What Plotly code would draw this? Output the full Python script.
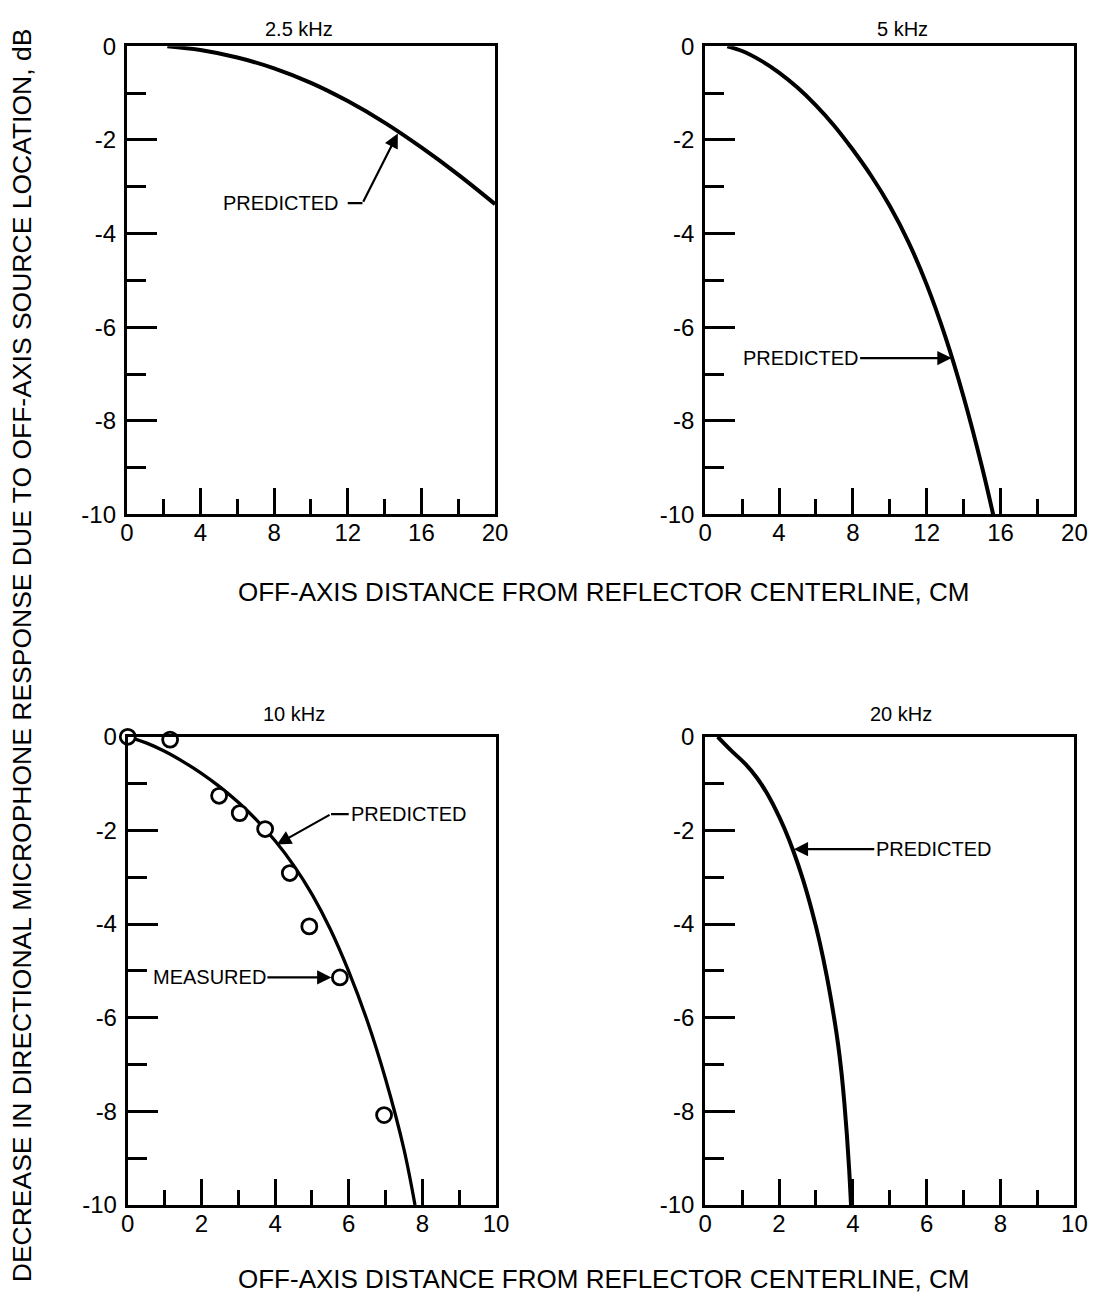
import plotly.graph_objects as go

# ---------------- data ----------------
x_25k = [2.2, 4, 6, 8, 10, 12, 14, 16, 18, 20]
y_25k = [0, -0.08, -0.24, -0.47, -0.78, -1.17, -1.63, -2.16, -2.74, -3.37]

x_5k = [1.2, 2, 3, 4, 5, 6, 7, 8, 9, 10, 11, 12, 13, 14, 15, 15.6]
y_5k = [0, -0.1, -0.3, -0.56, -0.88, -1.26, -1.7, -2.21, -2.77, -3.41, -4.17, -5.09, -6.19, -7.49, -8.99, -10]

x_10k = [0, 0.5, 1, 1.5, 2, 2.5, 3, 3.5, 4, 4.5, 5, 5.5, 6, 6.5, 7, 7.5, 7.8]
y_10k = [0, -0.13, -0.31, -0.53, -0.78, -1.07, -1.4, -1.78, -2.22, -2.74, -3.36, -4.11, -5.01, -6.06, -7.31, -8.81, -10]

x_10k_meas = [0, 1.15, 2.48, 3.04, 3.73, 4.4, 4.93, 5.76, 6.96]
y_10k_meas = [0, -0.06, -1.26, -1.63, -1.97, -2.91, -4.05, -5.14, -8.08]

x_20k = [0.34, 0.7, 1.1, 1.4, 1.65, 1.9, 2.15, 2.4, 2.65, 2.9, 3.1, 3.3, 3.5, 3.6, 3.69, 3.77, 3.84, 3.9, 3.95]
y_20k = [0, -0.29, -0.59, -0.875, -1.175, -1.54, -1.965, -2.465, -3.05, -3.74, -4.38, -5.14, -6.04, -6.57,
         -7.16, -7.82, -8.52, -9.24, -10]

panel_titles = ["2.5 kHz", "5 kHz", "10 kHz", "20 kHz"]

y_tick_vals = [0, -2, -4, -6, -8, -10]
y_tick_text = ["0", "-2", "-4", "-6", "-8", "-10"]
y_minor_vals = [-1, -3, -5, -7, -9]

x_top_tick_vals = [0, 4, 8, 12, 16, 20]
x_top_tick_text = ["0", "4", "8", "12", "16", "20"]
x_top_minor_vals = [2, 6, 10, 14, 18]

x_bot_tick_vals = [0, 2, 4, 6, 8, 10]
x_bot_tick_text = ["0", "2", "4", "6", "8", "10"]
x_bot_minor_vals = [1, 3, 5, 7, 9]

x_title = "OFF-AXIS DISTANCE FROM REFLECTOR CENTERLINE, CM"
y_title = "DECREASE IN DIRECTIONAL MICROPHONE RESPONSE DUE TO OFF-AXIS SOURCE LOCATION, dB"

# ---------------- layout helpers ----------------
W, H = 1108, 1311
FONT = "Liberation Sans, Arial, Helvetica, sans-serif"


def px(p):
    return p / W


def py(p):
    return 1 - p / H


fig = go.Figure()

curve = dict(color="black", width=4, shape="spline", smoothing=1)

fig.add_trace(go.Scatter(x=x_25k, y=y_25k, mode="lines", line=curve,
                         xaxis="x", yaxis="y", showlegend=False))
fig.add_trace(go.Scatter(x=x_5k, y=y_5k, mode="lines", line=curve,
                         xaxis="x2", yaxis="y2", showlegend=False))
fig.add_trace(go.Scatter(x=x_10k, y=y_10k, mode="lines", line=dict(curve, width=3.3),
                         xaxis="x3", yaxis="y3", showlegend=False))
fig.add_trace(go.Scatter(x=x_10k_meas, y=y_10k_meas, mode="markers",
                         marker=dict(symbol="circle", size=15, color="white", line=dict(color="black", width=2.8)),
                         xaxis="x3", yaxis="y3", showlegend=False, cliponaxis=False))
fig.add_trace(go.Scatter(x=x_20k, y=y_20k, mode="lines", line=curve,
                         xaxis="x4", yaxis="y4", showlegend=False))


def xaxis(domain, vals, text, minor_vals, rng, anchor):
    return dict(domain=domain, range=rng, anchor=anchor,
                showline=True, linecolor="black", linewidth=3, mirror=True,
                showgrid=False, zeroline=False,
                tickmode="array", tickvals=vals, ticktext=text,
                ticks="inside", ticklen=26, tickwidth=2.5, tickcolor="black",
                minor=dict(tickmode="array", tickvals=minor_vals, ticks="inside", ticklen=15,
                           tickwidth=2.5, tickcolor="black", showgrid=False),
                tickfont=dict(family=FONT, size=24, color="black"),
                ticklabelstandoff=-5)


def yaxis(domain, anchor):
    return dict(domain=domain, range=[-10, 0], anchor=anchor,
                showline=True, linecolor="black", linewidth=3, mirror=True,
                showgrid=False, zeroline=False,
                tickmode="array", tickvals=y_tick_vals, ticktext=y_tick_text,
                ticks="inside", ticklen=30, tickwidth=2.5, tickcolor="black",
                minor=dict(tickmode="array", tickvals=y_minor_vals, ticks="inside", ticklen=19,
                           tickwidth=2.5, tickcolor="black", showgrid=False),
                tickfont=dict(family=FONT, size=24, color="black"),
                ticklabelstandoff=3)


top_y = [py(511), py(33)]
bot_y = [py(1216), py(738)]
left_top_x = [px(122), px(497)]
right_x = [px(711), px(1087)]
left_bot_x = [px(123), px(498)]

fig.update_layout(
    width=W, height=H,
    margin=dict(l=0, r=0, t=0, b=0),
    paper_bgcolor="white", plot_bgcolor="white",
    font=dict(family=FONT, color="black"),
    xaxis=xaxis(left_top_x, x_top_tick_vals, x_top_tick_text, x_top_minor_vals, [0, 20], "y"),
    xaxis2=xaxis(right_x, x_top_tick_vals, x_top_tick_text, x_top_minor_vals, [0, 20], "y2"),
    xaxis3=xaxis(left_bot_x, x_bot_tick_vals, x_bot_tick_text, x_bot_minor_vals, [0, 10], "y3"),
    xaxis4=xaxis(right_x, x_bot_tick_vals, x_bot_tick_text, x_bot_minor_vals, [0, 10], "y4"),
    yaxis=yaxis(top_y, "x"),
    yaxis2=yaxis(top_y, "x2"),
    yaxis3=yaxis(bot_y, "x3"),
    yaxis4=yaxis(bot_y, "x4"),
)

ann = []
# panel titles
for t, (cx, cy) in zip(panel_titles, [(297, 15), (912, 15), (292, 715), (910, 715)]):
    ann.append(dict(text=t, x=px(cx), y=py(cy), xref="paper", yref="paper", showarrow=False,
                    font=dict(family=FONT, size=20, color="black"), xanchor="center", yanchor="middle"))
# axis titles
for cy in (590, 1292):
    ann.append(dict(text=x_title, x=px(607), y=py(cy), xref="paper", yref="paper", showarrow=False,
                    font=dict(family=FONT, size=26, color="black"), xanchor="center", yanchor="middle"))
ann.append(dict(text=y_title, x=px(15), y=py(655), xref="paper", yref="paper", showarrow=False, textangle=-90,
                font=dict(family=FONT, size=26.5, color="black"), xanchor="center", yanchor="middle"))

lab_font = dict(family=FONT, size=20, color="black")
arrow = dict(showarrow=True, arrowhead=2, arrowsize=1.3, arrowwidth=2.2, arrowcolor="black")

# 2.5 kHz: PREDICTED with bent leader
ann.append(dict(text="PREDICTED", x=8.4, y=-3.35, xref="x", yref="y", showarrow=False, font=lab_font))
ann.append(dict(text="", x=14.72, y=-1.86, ax=12.8, ay=-3.35, xref="x", yref="y", axref="x", ayref="y", **arrow))
# 5 kHz
ann.append(dict(text="PREDICTED", x=13.35, y=-6.66, xref="x2", yref="y2", ax=-151, ay=0, font=lab_font, **arrow))
# 10 kHz
ann.append(dict(text="PREDICTED", x=7.65, y=-1.65, xref="x3", yref="y3", showarrow=False, font=lab_font))
ann.append(dict(text="", x=4.05, y=-2.3, ax=5.52, ay=-1.65, xref="x3", yref="y3", axref="x3", ayref="y3", **arrow))
ann.append(dict(text="MEASURED", x=5.53, y=-5.14, xref="x3", yref="y3", ax=-122, ay=0, font=lab_font, **arrow))
# 20 kHz
ann.append(dict(text="PREDICTED", x=2.4, y=-2.4, xref="x4", yref="y4", ax=140, ay=0, font=lab_font, **arrow))

fig.update_layout(annotations=ann)

# short horizontal leader segments of the bent arrows
fig.add_shape(type="line", x0=12.0, x1=12.8, y0=-3.35, y1=-3.35, xref="x", yref="y",
              line=dict(color="black", width=2.2))
fig.add_shape(type="line", x0=5.52, x1=6.0, y0=-1.65, y1=-1.65, xref="x3", yref="y3",
              line=dict(color="black", width=2.2))

fig.write_html("out.html")
